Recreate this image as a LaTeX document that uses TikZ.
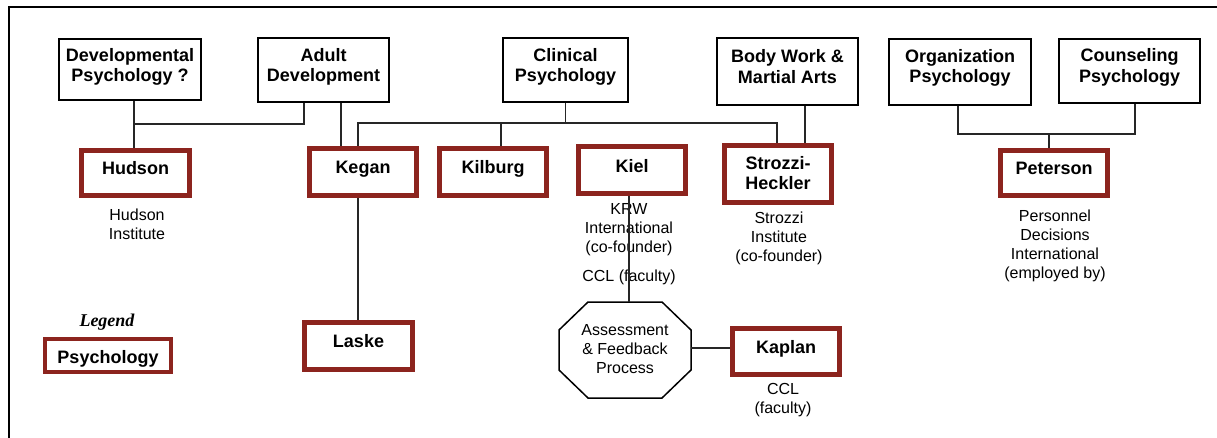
\documentclass[tikz,border=0pt]{standalone}
\usepackage{fontspec}
\setmainfont{Liberation Sans}
\newfontfamily\legendfont{Liberation Serif}
\usetikzlibrary{calc}
\definecolor{boxred}{RGB}{140,36,30}
\tikzset{
  blackbox/.style={draw=black, line width=2pt, inner sep=0pt, fill=white},
  redbox/.style={draw=boxred, line width=5pt, inner sep=0pt, fill=white},
  boxlabel/.style={font=\fontsize{18}{20.5}\selectfont\bfseries, align=center, inner sep=0pt},
  redlabel/.style={font=\fontsize{18}{20.5}\selectfont\bfseries, anchor=base, inner sep=0pt},
  note/.style={font=\fontsize{16}{19}\selectfont, align=center, inner sep=0pt},
  conn/.style={draw=black!85, line width=1.5pt},
}
\begin{document}
\begin{tikzpicture}[x=1pt,y=-1pt]
\useasboundingbox (0,0) rectangle (1217,438);
% frame
\draw[line width=2pt] (9,438) -- (9,7) -- (1217,7);

% discipline boxes
\node[blackbox, minimum width=142, minimum height=61] (dev) at (130,69.5) {};
\node[boxlabel] (devt) at ([yshift=2.5pt]dev.center) {Developmental\\Psychology ?};
\node[blackbox, minimum width=131, minimum height=64] (adult) at (323.5,70) {};
\node[boxlabel] (adultt) at ([yshift=3pt]adult.center) {Adult\\Development};
\node[blackbox, minimum width=125, minimum height=64] (clin) at (565.5,70) {};
\node[boxlabel] (clint) at ([yshift=3pt]clin.center) {Clinical\\Psychology};
\node[blackbox, minimum width=141, minimum height=67] (body) at (787.5,71.5) {};
\node[boxlabel] (bodyt) at ([yshift=5pt]body.center) {Body Work \&\\Martial Arts};
\node[blackbox, minimum width=142, minimum height=66] (org) at (960,72) {};
\node[boxlabel] (orgt) at ([yshift=4pt]org.center) {Organization\\Psychology};
\node[blackbox, minimum width=141, minimum height=64] (couns) at (1129.5,71) {};
\node[boxlabel] (counst) at ([yshift=3.5pt]couns.center) {Counseling\\Psychology};

% connector coordinates
\coordinate (busL) at (358,123);
\coordinate (busR) at (777,123);
\coordinate (kilb) at (501,123);
\coordinate (hudbus) at (134,124);
\coordinate (adultL) at (304,124);
\coordinate (adultR) at (341,124);
\coordinate (bodyx) at (805,124);
\coordinate (pbL) at (958,134);
\coordinate (pbR) at (1135,134);
\coordinate (pb) at (1049,134);
\coordinate (octtop) at (629,302);
\coordinate (octright) at (691,348);

% connectors (drawn before the person boxes)
\draw[conn] (hudbus |- dev.south) -- (hudbus |- 0,149);
\draw[conn] (hudbus) -| (adultL |- adult.south);
\draw[conn] (adultR |- adult.south) -- (adultR |- 0,148);
\draw[conn] (clin.south) -- (clin.south |- busL);
\draw[conn] (busL |- 0,148) -- (busL) -- (busR) -- (busR |- 0,146);
\draw[conn] (kilb) -- (kilb |- 0,148);
\draw[conn] (busL |- 0,170) -- (busL |- 0,148);
\draw[conn] (bodyx |- body.south) -- (bodyx |- 0,146);
\draw[conn] (pbL |- org.south) -- (pbL) -- (pbR) -- (pbR |- couns.south);
\draw[conn] (pb) -- (pb |- 0,150);

% person boxes
\node[redbox, minimum width=108, minimum height=45] (hudson) at (135.5,173) {};
\node[redlabel] (hudsont) at (135.5,174.5) {Hudson};
\node[redbox, minimum width=107, minimum height=47] (kegan) at (363,172) {};
\node[redlabel] (kegant) at (363,173.5) {Kegan};
\node[redbox, minimum width=107, minimum height=47] (kilburg) at (493,172) {};
\node[redlabel] (kilburgt) at (493,173.5) {Kilburg};
\node[redbox, minimum width=107, minimum height=47] (kiel) at (632,170) {};
\node[redlabel] (kielt) at (632,172.5) {Kiel};
\node[redbox, minimum width=107, minimum height=57] (strozzi) at (778,174) {};
\node[boxlabel] (strozzit) at ([yshift=1pt]strozzi.center) {Strozzi-\\Heckler};
\node[redbox, minimum width=108, minimum height=47] (laske) at (358.5,346) {};
\node[redlabel] (lasket) at (358.5,347.5) {Laske};
\node[redbox, minimum width=107, minimum height=46] (kaplan) at (786,351.5) {};
\node[redlabel] (kaplant) at (786,353) {Kaplan};
\node[redbox, minimum width=107, minimum height=45] (peterson) at (1054,173) {};
\node[redlabel] (petersont) at (1054,175) {Peterson};

% Kegan to Laske
\draw[conn] (busL |- kegan.south) -- (busL |- laske.north);

% octagon
\draw[line width=1.5pt] (588,302) -- (662,302) -- (691,330) -- (691,370) -- (662,398) -- (588,398) -- (559,370) -- (559,330) -- cycle;
\node[note] (oct) at (625,349.5) {Assessment\\\& Feedback\\Process};
\draw[conn] (octright) -- (octright -| kaplan.west);

% notes
\node[note] (hudnote) at (137,224.5) {Hudson\\Institute};
\node[note] (kielnote) at (629,230) {KRW\\International\\(co-founder)};
\node[note] (kielccl) at (629,277.5) {CCL (faculty)};
\node[note] (strnote) at (779,238) {Strozzi\\Institute\\(co-founder)};
\node[note] (petnote) at (1055,245.5) {Personnel\\Decisions\\International\\(employed by)};
\node[note] (kapnote) at (783,400.5) {CCL\\(faculty)};

% Kiel line over its notes
\draw[conn] (octtop |- kiel.south) -- (octtop);

% legend
\node[font=\fontsize{18}{20}\selectfont\legendfont\bfseries\itshape, inner sep=0pt] (legend) at (107,322.5) {Legend};
\node[draw=boxred, line width=4pt, inner sep=0pt, fill=white, minimum width=126, minimum height=33] (legbox) at (108,355.5) {};
\node[redlabel] (legboxt) at (108,363.5) {Psychology};
\end{tikzpicture}
\end{document}
